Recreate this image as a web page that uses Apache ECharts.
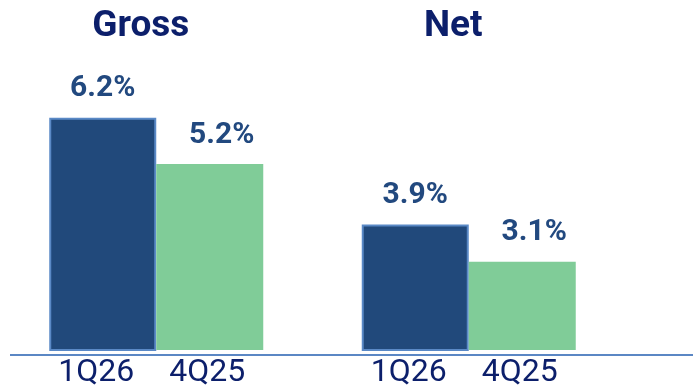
<!DOCTYPE html>
<html>
<head>
<meta charset="utf-8">
<script src="https://cdn.jsdelivr.net/npm/echarts@6/dist/echarts.min.js"></script>
<style>
  html, body { margin: 0; padding: 0; background: #ffffff; }
  #chart { width: 693px; height: 389px; }
</style>
</head>
<body>
<div id="chart"></div>
<script>
// Groups shown side by side, and the two periods compared in each group
const groups = ['Gross', 'Net'];
const periods = ['1Q26', '4Q25'];
const current = [6.2, 3.9];   // 1Q26
const previous = [5.2, 3.1];  // 4Q25

const NAVY = '#0c1f6b';
const LABEL = '#22497f';

const chart = echarts.init(document.getElementById('chart'), null, { renderer: 'canvas' });

const valueLabel = (extra) => Object.assign({
  show: true,
  position: 'top',
  distance: 14,
  color: LABEL,
  fontFamily: 'Roboto',
  fontWeight: 'bold',
  fontSize: 30,
  formatter: p => p.value.toFixed(1) + '%'
}, extra || {});

chart.setOption({
  animation: false,
  backgroundColor: '#ffffff',
  grid: { left: -6, right: 68, top: 60, bottom: 34 },
  xAxis: [
    {
      type: 'category',
      data: groups,
      position: 'bottom',
      axisLine: { show: false },
      axisTick: { show: false },
      axisLabel: {
        margin: 7,
        formatter: () => '{a|' + periods[0] + '}{b|' + periods[1] + '}',
        rich: {
          a: { width: 102, align: 'center', fontFamily: 'Roboto', fontSize: 32, color: NAVY },
          b: { width: 120, align: 'center', fontFamily: 'Roboto', fontSize: 32, color: NAVY }
        }
      }
    },
    {
      type: 'category',
      data: groups,
      position: 'top',
      axisLine: { show: false },
      axisTick: { show: false },
      axisLabel: {
        margin: 15,
        padding: [0, 31, 0, 0],
        fontFamily: 'Roboto',
        fontWeight: 'bold',
        fontSize: 37,
        color: NAVY
      }
    }
  ],
  yAxis: {
    type: 'value',
    min: 1.2,
    max: 7.44,
    show: false,
    splitLine: { show: false }
  },
  graphic: [{
    type: 'line',
    shape: { x1: 10, y1: 355, x2: 693, y2: 355 },
    style: { stroke: '#5b87c4', lineWidth: 2 },
    z: 10
  }],
  series: [
    {
      name: periods[0],
      type: 'bar',
      xAxisIndex: 0,
      data: current,
      barWidth: 107,
      barGap: '0%',
      itemStyle: { color: '#21497b', borderColor: '#5a89c6', borderWidth: 2 },
      label: valueLabel()
    },
    {
      name: periods[1],
      type: 'bar',
      xAxisIndex: 0,
      data: previous,
      barWidth: 107,
      barGap: '0%',
      itemStyle: { color: '#80cc98' },
      label: valueLabel({ offset: [12, 0] })
    }
  ]
});
</script>
</body>
</html>
